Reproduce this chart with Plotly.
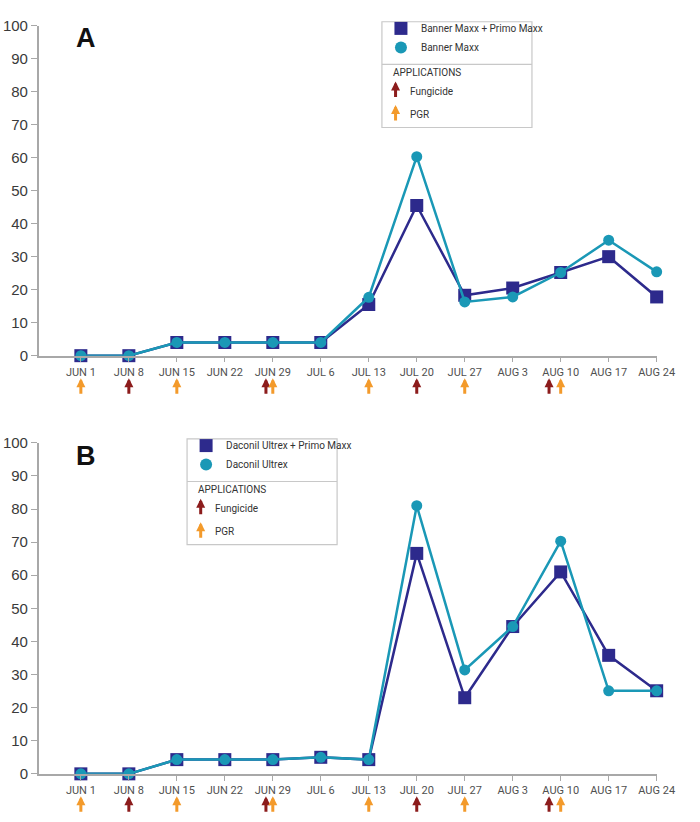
import plotly.graph_objects as go

# ---------------- data ----------------
week_labels = ["JUN 1", "JUN 8", "JUN 15", "JUN 22", "JUN 29", "JUL 6", "JUL 13",
               "JUL 20", "JUL 27", "AUG 3", "AUG 10", "AUG 17", "AUG 24"]
week_days = [7 * i for i in range(len(week_labels))]  # days after JUN 1

# Panel A
a_combo_name = "Banner Maxx + Primo Maxx"
a_combo = [0, 0, 4, 4, 4, 4, 15.5, 45.5, 18.3, 20.5, 25.2, 30, 17.8]
a_single_name = "Banner Maxx"
a_single = [0, 0, 4, 4, 4, 4, 17.7, 60.3, 16.3, 17.8, 25.2, 35, 25.4]

# Panel B
b_combo_name = "Daconil Ultrex + Primo Maxx"
b_combo = [0, 0, 4.3, 4.3, 4.3, 5, 4.3, 66.6, 23, 44.5, 61, 35.8, 25.1]
b_single_name = "Daconil Ultrex"
b_single = [0, 0, 4.3, 4.3, 4.3, 5, 4.3, 81, 31.4, 44.5, 70.3, 25.1, 25.1]

# Application dates (days after JUN 1)
fungicide_days = [7, 27, 49, 68.3]
pgr_days = [0, 14, 28, 42, 56, 70]

y_ticks = list(range(0, 101, 10))

# ---------------- style ----------------
W, H = 700, 822
NAVY = "#2d2a8c"
TEAL = "#1a98b6"
FUNG = "#8c1c1c"
PGR = "#f39a2b"
AXIS = "#a8a8a8"
TXT = "#3a3a3a"
NARROW = "Liberation Sans Narrow, Arial Narrow, Roboto, sans-serif"

def px(x):
    return x / W

def py(y):
    return 1 - y / H

fig = go.Figure()

panels = [
    dict(combo=a_combo, single=a_single, cname=a_combo_name, sname=a_single_name,
         top=17, bottom=354, label="A", legend="legend", xa="x", ya="y",
         dx=0, dy=0),
    dict(combo=b_combo, single=b_single, cname=b_combo_name, sname=b_single_name,
         top=443, bottom=781, label="B", legend="legend2", xa="x2", ya="y2",
         dx=-200, dy=426),
]

annotations = []
shapes = []
x_left, x_right = 40, 674
day_per_px = 84 / (674 - 83)
x_range = [-(83 - x_left) * day_per_px, 84]

ARROW = dict(showarrow=True, arrowhead=2, arrowsize=0.6, arrowwidth=3, standoff=0,
             text="", ax=0, ay=17)

for i, p in enumerate(panels):
    fig.add_trace(go.Scatter(
        x=week_days, y=p["combo"], name=p["cname"], mode="lines+markers",
        line=dict(color=NAVY, width=2.5),
        marker=dict(symbol="square", size=13, color=NAVY),
        cliponaxis=False, xaxis=p["xa"], yaxis=p["ya"], showlegend=False))
    fig.add_trace(go.Scatter(
        x=week_days, y=p["single"], name=p["sname"], mode="lines+markers",
        line=dict(color=TEAL, width=2.5),
        marker=dict(symbol="circle", size=11, color=TEAL),
        cliponaxis=False, xaxis=p["xa"], yaxis=p["ya"], showlegend=False))
    # legend entries (markers only)
    fig.add_trace(go.Scatter(
        x=[None], y=[None], name=p["cname"], mode="markers",
        marker=dict(symbol="square", size=13, color=NAVY),
        xaxis=p["xa"], yaxis=p["ya"], legend=p["legend"]))
    fig.add_trace(go.Scatter(
        x=[None], y=[None], name=p["sname"], mode="markers",
        marker=dict(symbol="circle", size=12, color=TEAL),
        xaxis=p["xa"], yaxis=p["ya"], legend=p["legend"]))

    suffix = "" if i == 0 else "2"
    dom_y = [py(p["bottom"]), py(p["top"])]
    fig.update_layout(**{
        "xaxis" + suffix: dict(
            domain=[px(x_left), px(x_right)], range=x_range, anchor="y" + suffix,
            tickvals=week_days, ticktext=week_labels, showgrid=False, zeroline=False,
            showline=True, linecolor=AXIS, linewidth=1.5, ticks="outside",
            ticklen=5, tickcolor=AXIS, tickwidth=1,
            tickfont=dict(family=NARROW, size=11, color="#505050")),
        "yaxis" + suffix: dict(
            domain=dom_y, range=[0, 100], anchor="x" + suffix,
            tickvals=y_ticks, showgrid=False, zeroline=False,
            showline=True, linecolor=AXIS, linewidth=2, ticks="outside",
            ticklen=6, tickcolor=AXIS, tickwidth=1,
            tickfont=dict(family="Liberation Sans, Arial, sans-serif", size=15, color=TXT)),
    })

    # application arrows below x axis (tip 23 px under the axis line)
    dom_h = p["bottom"] - p["top"]
    tip_y = -23 / dom_h
    for days, color in ((fungicide_days, FUNG), (pgr_days, PGR)):
        for d in days:
            annotations.append(dict(
                x=d, y=tip_y, xref=p["xa"], yref=p["ya"] + " domain",
                arrowcolor=color, **ARROW))

    dx, dy = p["dx"], p["dy"]
    # panel label
    annotations.append(dict(
        x=px(88), y=py(30 + p["top"] - 17), xref="paper", yref="paper",
        xanchor="center", yanchor="middle", text="<b>%s</b>" % p["label"],
        showarrow=False, font=dict(family="Liberation Sans, Arial, sans-serif", size=27, color="#111")))

    # legend box
    shapes.append(dict(type="rect", xref="paper", yref="paper",
                       x0=px(392 + dx), x1=px(546 + dx), y0=py(121 + dy), y1=py(13 + dy),
                       line=dict(color="#c8c8c8", width=1.2), fillcolor="rgba(0,0,0,0)"))
    shapes.append(dict(type="line", xref="paper", yref="paper",
                       x0=px(392 + dx), x1=px(546 + dx), y0=py(56.5 + dy), y1=py(56.5 + dy),
                       line=dict(color="#c8c8c8", width=1.2)))
    fig.update_layout(**{
        p["legend"]: dict(
            x=px(391 + dx), y=py(5 + dy), xanchor="left", yanchor="top",
            bgcolor="rgba(0,0,0,0)", borderwidth=0, tracegroupgap=0,
            font=dict(family=NARROW, size=10, color="#333"),
            itemwidth=30, traceorder="normal")})
    annotations.append(dict(
        x=px(401 + dx), y=py(65 + dy), xref="paper", yref="paper",
        xanchor="left", yanchor="middle",
        text="APPLICATIONS", showarrow=False,
        font=dict(family=NARROW, size=10, color="#333")))
    for name, color, tip, ycen in (("Fungicide", FUNG, 74, 84), ("PGR", PGR, 98, 108)):
        annotations.append(dict(
            x=px(406 + dx), y=py(tip + dy), xref="paper", yref="paper",
            arrowcolor=color, **ARROW))
        annotations.append(dict(
            x=px(419 + dx), y=py(ycen + dy), xref="paper", yref="paper",
            xanchor="left", yanchor="middle",
            text=name, showarrow=False, font=dict(family=NARROW, size=10, color="#333")))

fig.update_layout(
    width=W, height=H, margin=dict(l=0, r=0, t=0, b=0),
    paper_bgcolor="white", plot_bgcolor="white",
    annotations=annotations, shapes=shapes, showlegend=True)

fig.write_html("out.html")
